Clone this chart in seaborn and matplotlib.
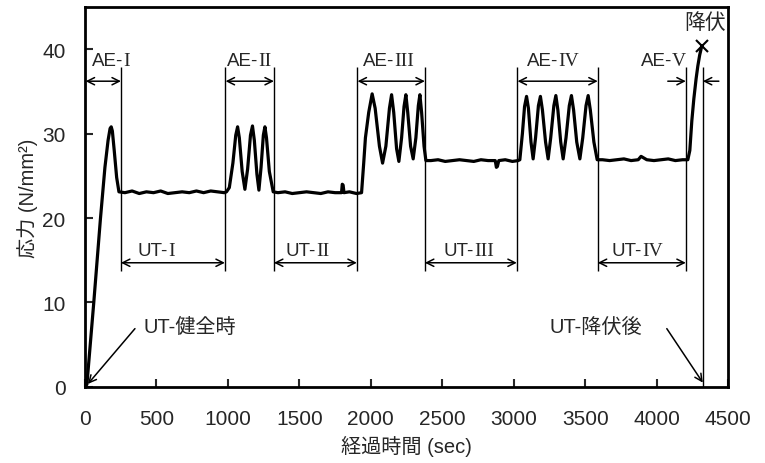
import matplotlib
matplotlib.use("Agg")
import matplotlib.pyplot as plt
import seaborn as sns
import pandas as pd

# 経過時間 (sec) と 応力 (N/mm2) : グラフから読み取った値
time_sec = [0, 14, 62, 108, 140, 162, 176, 184, 192, 205, 222, 238,
            280, 330, 380, 430, 480, 530, 580, 630, 680, 730, 780, 830, 880, 930, 975,
            990, 1010, 1035, 1055, 1068, 1080, 1100, 1119, 1138, 1158, 1172, 1185,
            1203, 1217, 1232, 1248, 1259, 1270, 1290, 1317,
            1350, 1400, 1450, 1500, 1550, 1600, 1650, 1700, 1750, 1795, 1800, 1806,
            1812, 1850, 1900, 1935,
            1950, 1962, 1985, 2009, 2030, 2060, 2082, 2105, 2130, 2145, 2160, 2180,
            2196, 2215, 2232, 2245, 2258, 2278, 2296, 2315, 2332, 2343, 2355, 2372, 2385,
            2420, 2470, 2520, 2570, 2620, 2670, 2720, 2770, 2820, 2870, 2878, 2885,
            2895, 2940, 2990, 3030,
            3042, 3060, 3075, 3089, 3102, 3120, 3135, 3152, 3172, 3186, 3200, 3222,
            3240, 3258, 3280, 3294, 3308, 3328, 3345, 3365, 3388, 3403, 3418, 3440,
            3462, 3482, 3505, 3520, 3535, 3560, 3583,
            3620, 3670, 3720, 3770, 3820, 3870, 3890, 3900, 3930, 3980, 4030, 4080,
            4130, 4180, 4217,
            4231, 4245, 4259, 4275, 4287, 4300, 4315]
stress = [0, 0.3, 10.0, 19.8, 26.0, 29.2, 30.6, 30.8, 30.3, 28.0, 24.8, 23.1,
          23.0, 23.2, 22.9, 23.1, 23.0, 23.2, 22.9, 23.0, 23.1, 23.0, 23.2, 23.0, 23.2, 23.1, 23.0,
          23.1, 23.6, 26.5, 29.8, 30.8, 29.5, 25.5, 23.4, 25.8, 29.8, 30.9, 29.2,
          25.2, 23.3, 26.0, 29.8, 30.8, 29.5, 25.5, 23.1,
          23.0, 23.1, 22.9, 23.0, 23.1, 23.0, 22.9, 23.1, 23.0, 23.0, 24.0, 23.9,
          23.0, 23.1, 22.9, 23.0,
          26.5, 29.5, 32.5, 34.7, 33.0, 28.5, 26.5, 28.5, 33.0, 34.6, 32.5, 28.2,
          26.7, 29.5, 33.2, 34.6, 32.5, 28.5, 27.0, 29.5, 33.3, 34.6, 32.5, 28.5, 26.8,
          26.8, 26.9, 26.7, 26.8, 26.9, 26.8, 26.7, 26.9, 26.8, 26.8, 26.0, 26.1,
          26.8, 26.9, 26.7, 26.8,
          26.9, 30.0, 33.2, 34.4, 33.0, 29.0, 27.0, 29.5, 33.3, 34.4, 32.8, 29.0,
          27.0, 29.5, 33.3, 34.5, 32.8, 29.0, 27.0, 29.5, 33.3, 34.5, 32.8, 29.0,
          27.0, 29.5, 33.3, 34.5, 32.8, 29.0, 26.9,
          26.9, 26.8, 26.9, 27.0, 26.8, 26.9, 27.3, 27.2, 26.9, 26.8, 26.9, 27.0,
          26.8, 26.9, 26.9,
          28.0, 31.5, 34.1, 36.5, 38.0, 39.3, 40.4]

# 区間の境界 (sec)
ae_spans = [(0, 252), (979, 1322), (1902, 2378), (3021, 3587)]
ut_spans = [(252, 979), (1322, 1902), (2378, 3021), (3587, 4203)]
ae5_bounds = (4203, 4322)
yield_point = (4315, 40.4)

# ラベル (接頭辞はゴシック、ローマ数字は明朝風)
ae_numerals = ["I", "II", "III", "IV", "V"]
ae_label_x = [49, 993, 1944, 3091, 3888]
ut_numerals = ["I", "II", "III", "IV"]
ut_label_x = [371, 1405, 2510, 3685]

sns.set_theme(style="ticks")
plt.rcParams['font.family'] = ['Liberation Sans', 'Noto Sans CJK JP', 'DejaVu Sans']

fig = plt.figure(figsize=(7.65, 4.64), dpi=100)
ax = fig.add_axes([0.111, 0.164, 0.841, 0.819])

df = pd.DataFrame({"t": time_sec, "s": stress})
sns.lineplot(data=df, x="t", y="s", ax=ax, color="black", linewidth=2.3, sort=False)
ax.plot(*yield_point, marker="x", color="black", markersize=9, markeredgewidth=1.5)

# 境界線
bounds = sorted(set([b for sp in ae_spans[1:] for b in sp] + [252, ae5_bounds[0]]))
ax.vlines(bounds, 13.7, 37.9, color="black", linewidth=1.0)
ax.vlines(ae5_bounds[1], 0, 37.9, color="black", linewidth=1.0)

arrow = dict(arrowstyle="<->", color="black", lw=1.1, shrinkA=0, shrinkB=0, mutation_scale=13)
one_way = dict(arrowstyle="->", color="black", lw=1.1, shrinkA=0, shrinkB=0, mutation_scale=13)


def label(x, y, prefix, numeral):
    t1 = ax.text(x, y, prefix, ha="left", va="center", fontsize=13.5,
                 family="Liberation Sans")
    ax.annotate(numeral, xy=(1, 0), xycoords=t1, ha="left", va="bottom",
                fontsize=14, family="Liberation Serif")


for (a, b) in ae_spans:
    ax.annotate("", xy=(b, 36.2), xytext=(a + 5, 36.2), arrowprops=arrow)
for (a, b) in ut_spans:
    ax.annotate("", xy=(b, 14.7), xytext=(a, 14.7), arrowprops=arrow)
for x, n in zip(ae_label_x, ae_numerals):
    label(x, 38.6, "AE-", n)
for x, n in zip(ut_label_x, ut_numerals):
    label(x, 16.2, "UT-", n)

ax.annotate("", xy=(ae5_bounds[0], 36.2), xytext=(4077, 36.2), arrowprops=one_way)
ax.annotate("", xy=(ae5_bounds[1], 36.2), xytext=(4434, 36.2), arrowprops=one_way,
            annotation_clip=False)

ax.annotate("", xy=(21, 0.35), xytext=(350, 6.9), arrowprops=one_way)
ax.text(413, 7.1, "UT-健全時", ha="left", va="center", fontsize=14.5)
ax.annotate("", xy=(4322, 0.5), xytext=(4070, 6.9), arrowprops=one_way)
ax.text(3252, 7.1, "UT-降伏後", ha="left", va="center", fontsize=14.5)
ax.text(4336, 43.2, "降伏", ha="center", va="center", fontsize=15)

ax.set_xlim(0, 4500)
ax.set_ylim(0, 45)
ax.set_xticks(range(0, 4501, 500))
ax.set_yticks(range(0, 41, 10))
ax.tick_params(direction="in", length=6, width=1.5, labelsize=15, top=False, right=False)
ax.tick_params(axis="x", pad=16)
ax.tick_params(axis="y", pad=14)
for sp in ax.spines.values():
    sp.set_linewidth(2.0)
    sp.set_color("black")
ax.set_xlabel("経過時間 (sec)", fontsize=14.5, labelpad=5)
ax.set_ylabel("応力 (N/mm²)", fontsize=14.5, labelpad=3)

fig.savefig("out.png", dpi=100)
